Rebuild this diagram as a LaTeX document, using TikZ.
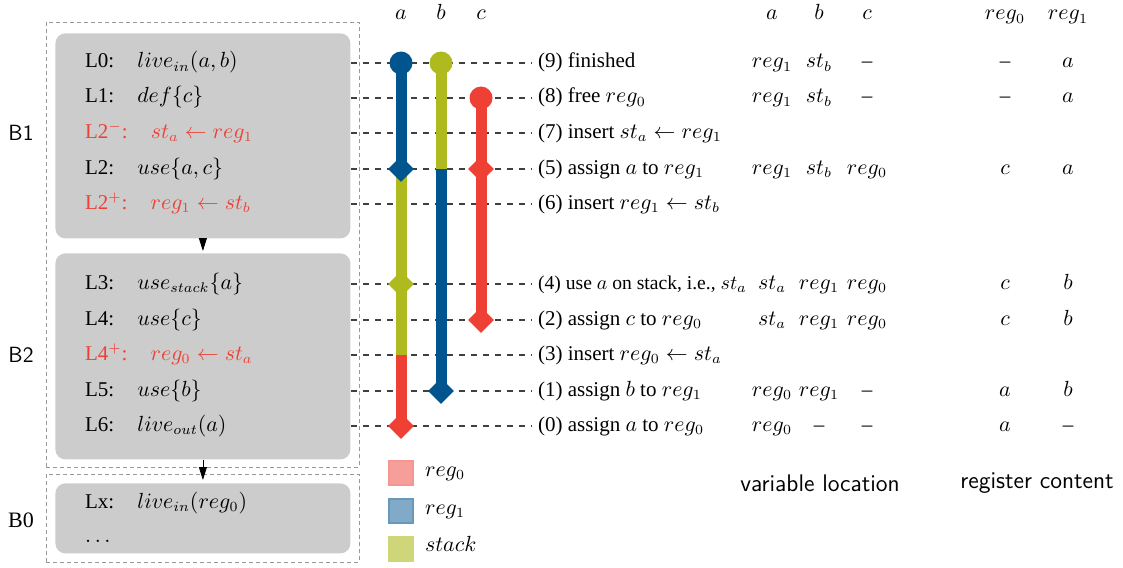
\documentclass[tikz,border=0pt]{standalone}
\usepackage{fontspec}
\setmainfont{Liberation Serif}
\usepackage{xcolor}
\usepackage{tikz}
\usetikzlibrary{arrows.meta}
\usetikzlibrary{shapes,positioning}

\definecolor{regzero}{HTML}{EE4035}
\definecolor{regone}{HTML}{00558F}
\definecolor{stackc}{HTML}{AFBA1F}

\tikzset{
  blk/.style={draw=gray!80, dash pattern=on 2pt off 1.5pt, anchor=north west, inner sep=0pt},
  bbox/.style={fill=black!20, rounded corners=5pt, anchor=north west, inner sep=0pt},
  row/.style={anchor=west, text height=0.75em, text depth=0.25em},
  cell/.style={text height=0.75em, text depth=0.25em},
  guide/.style={draw=black!75, dashed, line width=0.6pt},
  life/.style={line width=5.5pt},
  dot/.style={circle, inner sep=0pt, minimum size=11.5pt},
  diam/.style={diamond, inner sep=0pt, minimum width=13pt, minimum height=13pt},
  legend/.style={minimum size=12pt, inner sep=0pt, line width=1pt},
  caption/.style={font=\sffamily\fontsize{12}{14}\selectfont}
}

\begin{document}
\begin{tikzpicture}[x=0.5pt, y=-0.5pt, font=\fontsize{10.5}{12.6}\selectfont]
        % Live ranges of a, b, c across blocks B1, B2 and B0
        \useasboundingbox (0,0) rectangle (1123,567);

        % blocks
        \node[blk, minimum width=156.5pt, minimum height=222.5pt] (blk12) at (46,22) {};
        \node[blk, minimum width=156.5pt, minimum height=44pt] (blk0) at (46,474) {};
        \node[bbox, minimum width=147.5pt, minimum height=102.5pt] (bb1) at (55,33) {};
        \node[bbox, minimum width=147.5pt, minimum height=103pt] (bb2) at (55,253) {};
        \node[bbox, minimum width=147.5pt, minimum height=35pt] (bb0) at (55,483) {};
        \draw[-{Triangle[width=4pt,length=6.5pt]}, shorten >=1pt] (bb1.south) -- (bb2.north);
        \draw[-{Triangle[width=4pt,length=6.5pt]}, shorten >=1.5pt] (bb2.south) -- (bb0.north);

        \node[font=\sffamily\fontsize{11}{13}\selectfont] (lb1) at (21,133) {B1};
        \node[font=\sffamily\fontsize{11}{13}\selectfont] (lb2) at (21,355) {B2};
        \node[font=\fontsize{11}{13}\selectfont] (lb0) at (21,520) {B0};

        % code
        \node[row] (l0) at (78,63) {L0:\hspace{1.1em}$live_{in}(a,b)$};
        \node[row] (l1) at (78,98) {L1:\hspace{1.1em}$def\{c\}$};
        \node[row, text=regzero] (l2m) at (78,133) {L2$^-$:\hspace{1.1em}$st_a \leftarrow reg_1$};
        \node[row] (l2) at (78,169) {L2:\hspace{1.1em}$use\{a,c\}$};
        \node[row, text=regzero] (l2p) at (78,204) {L2$^+$:\hspace{1.1em}$reg_1 \leftarrow st_b$};
        \node[row] (l3) at (78,284) {L3:\hspace{1.1em}$use_{stack}\{a\}$};
        \node[row] (l4) at (78,320) {L4:\hspace{1.1em}$use\{c\}$};
        \node[row, text=regzero] (l4p) at (78,355) {L4$^+$:\hspace{1.1em}$reg_0 \leftarrow st_a$};
        \node[row] (l5) at (78,391) {L5:\hspace{1.1em}$use\{b\}$};
        \node[row] (l6) at (78,426) {L6:\hspace{1.1em}$live_{out}(a)$};
        \node[row] (lx) at (78,503) {Lx:\hspace{1.1em}$live_{in}(reg_0)$};
        \node[row] (ly) at (78,537) {$\ldots$};

        % steps
        \node[row] (s9) at (531,63) {(9) finished};
        \node[row] (s8) at (531,98) {(8) free $reg_0$};
        \node[row] (s7) at (531,133) {(7) insert $st_a \leftarrow reg_1$};
        \node[row] (s5) at (531,169) {(5) assign $a$ to $reg_1$};
        \node[row] (s6) at (531,204) {(6) insert $reg_1 \leftarrow st_b$};
        \node[row, font=\fontsize{9.8}{12}\selectfont] (s4) at (531,284) {(4) use $a$ on stack, i.e., $st_a$};
        \node[row] (s2) at (531,320) {(2) assign $c$ to $reg_0$};
        \node[row] (s3) at (531,355) {(3) insert $reg_0 \leftarrow st_a$};
        \node[row] (s1) at (531,391) {(1) assign $b$ to $reg_1$};
        \node[row] (s0) at (531,426) {(0) assign $a$ to $reg_0$};

        \foreach \s/\b in {s9/bb1, s8/bb1, s7/bb1, s5/bb1, s6/bb1,
                           s4/bb2, s2/bb2, s3/bb2, s1/bb2, s0/bb2}
          \draw[guide] (\b.east |- \s) -- (\s.west);

        % lifelines
        \node[anchor=base] (ha) at (401,20) {$a$};
        \node[anchor=base] (hb) at (441,20) {$b$};
        \node[anchor=base] (hc) at (481,20) {$c$};

        \draw[life, regone] (ha |- s9) -- (ha |- s5);
        \draw[life, stackc] (ha |- s5) -- (ha |- s3);
        \draw[life, regzero] (ha |- s3) -- (ha |- s0);
        \draw[life, stackc] (hb |- s9) -- (hb |- s5);
        \draw[life, regone] (hb |- s5) -- (hb |- s1);
        \draw[life, regzero] (hc |- s8) -- (hc |- s2);

        \node[dot, fill=regone] (pa9) at (ha |- s9) {};
        \node[dot, fill=stackc] (pb9) at (hb |- s9) {};
        \node[dot, fill=regzero] (pc8) at (hc |- s8) {};
        \node[diam, fill=regone] (pa5) at (ha |- s5) {};
        \node[diam, fill=stackc] (pa4) at (ha |- s4) {};
        \node[diam, fill=regzero] (pa0) at (ha |- s0) {};
        \node[diam, fill=regone] (pb1) at (hb |- s1) {};
        \node[diam, fill=regzero] (pc5) at (hc |- s5) {};
        \node[diam, fill=regzero] (pc2) at (hc |- s2) {};

        % legend
        \node[legend, fill=regzero!50, draw=regzero!55] (lg0) at (401,473) {};
        \node[legend, fill=regone!50, draw=regone!60] (lg1) at (401,511) {};
        \node[legend, fill=stackc!60, draw=stackc!60] (lg2) at (401,549) {};
        \node[anchor=base west] (lt0) at (418,476) {$reg_0$};
        \node[anchor=base west] (lt1) at (418,514) {$reg_1$};
        \node[anchor=base west] (lt2) at (418,551) {$stack$};

        % location / content table
        \node[anchor=base] (ta) at (772,20) {$a$};
        \node[anchor=base] (tb) at (819,20) {$b$};
        \node[anchor=base] (tc) at (867,20) {$c$};
        \node[anchor=base] (tr0) at (1005,20) {$reg_0$};
        \node[anchor=base] (tr1) at (1068,20) {$reg_1$};

        \foreach \y/\va/\vb/\vc/\rz/\ro in {
            63/$reg_1$/$st_b$/--/--/$a$,
            98/$reg_1$/$st_b$/--/--/$a$,
            169/$reg_1$/$st_b$/$reg_0$/$c$/$a$,
            284/$st_a$/$reg_1$/$reg_0$/$c$/$b$,
            320/$st_a$/$reg_1$/$reg_0$/$c$/$b$,
            391/$reg_0$/$reg_1$/--/$a$/$b$,
            426/$reg_0$/--/--/$a$/--} {
          \node[cell] (va\y) at (772,\y) {\va};
          \node[cell] (vb\y) at (819,\y) {\vb};
          \node[cell] (vc\y) at (867,\y) {\vc};
          \node[cell] (rz\y) at (1005,\y) {\rz};
          \node[cell] (ro\y) at (1068,\y) {\ro};
        }

        \node[caption] (vloc) at (820,483) {variable location};
        \node[caption] (rcon) at (1037,483) {register content};
    \end{tikzpicture}
\end{document}
